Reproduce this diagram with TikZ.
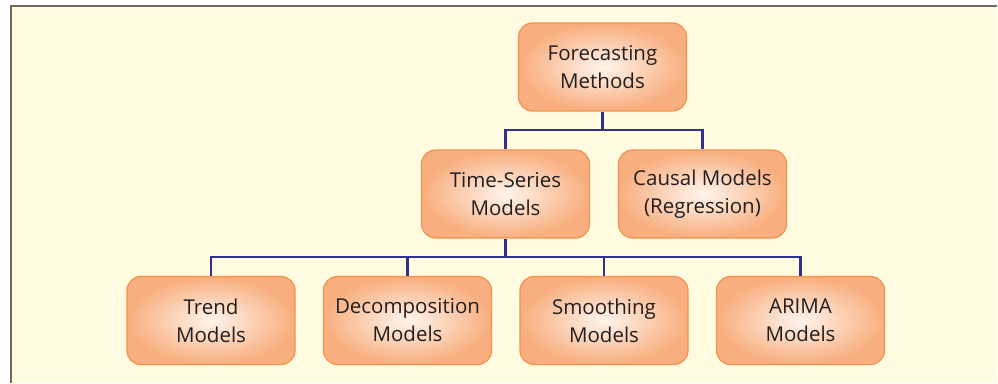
\documentclass[tikz,border=0pt]{standalone}
\usepackage{fontspec}
\setmainfont{Open Sans}
\usetikzlibrary{shadings}
\definecolor{bgc}{HTML}{FFFBE0}
\definecolor{framec}{HTML}{6E6A60}
\definecolor{boxouter}{HTML}{F8AE7E}
\definecolor{boxinner}{HTML}{FFF4EC}
\definecolor{boxline}{HTML}{F2924E}
\definecolor{linkc}{HTML}{2E3192}
\definecolor{txt}{HTML}{231F20}
\tikzset{
  fbox/.style={rounded corners=14pt, draw=boxline, line width=1.2pt,
    inner color=boxinner, outer color=boxouter,
    minimum width=168pt, minimum height=88pt, align=center,
    font=\fontsize{20.5}{28}\selectfont, text=txt, inner sep=0pt},
  link/.style={draw=linkc, line width=2.2pt}
}
\begin{document}
\begin{tikzpicture}[x=1pt,y=-1pt]
\useasboundingbox (0,0) rectangle (998,383);
\fill[bgc] (11,6) rectangle (997,383);
\draw[framec, line width=2pt] (11,383) -- (11,6) -- (997,6);
\node[fbox] (fm) at (602.5,67) {Forecasting\\Methods};
\node[fbox] (ts) at (505.5,194) {Time-Series\\Models};
\node[fbox] (cm) at (702.5,194) {Causal Models\\(Regression)};
\node[fbox] (tr) at (211,320.5) {Trend\\Models};
\node[fbox] (dc) at (407.5,320.5) {Decomposition\\Models};
\node[fbox] (sm) at (604,320.5) {Smoothing\\Models};
\node[fbox] (ar) at (800.5,320.5) {ARIMA\\Models};
\coordinate (j1) at (602.5,130);
\coordinate (j2) at (505.5,257);
\draw[link] (fm.south) -- (j1);
\draw[link] (ts.north) |- (j1) -| (cm.north);
\draw[link] (ts.south) -- (j2);
\draw[link] (tr.north) |- (j2) -| (ar.north);
\draw[link] (dc.north) -- (dc.north |- j2);
\draw[link] (sm.north) -- (sm.north |- j2);
\end{tikzpicture}
\end{document}
